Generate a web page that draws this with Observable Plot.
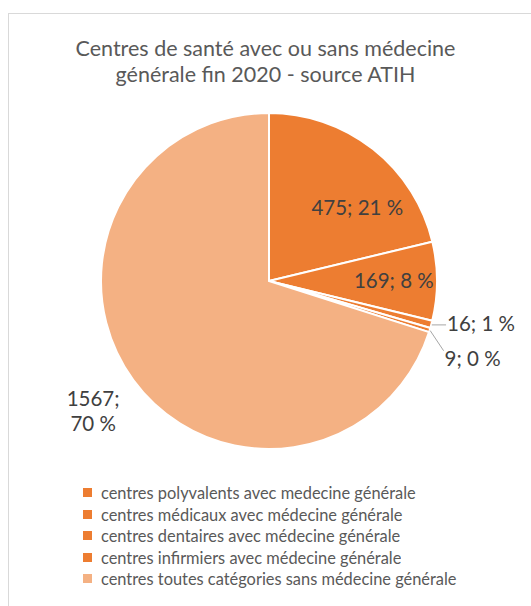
<!DOCTYPE html>
<html><head><meta charset="utf-8">
<script src="https://cdn.jsdelivr.net/npm/d3@7"></script>
<script src="https://cdn.jsdelivr.net/npm/@observablehq/plot@0.6"></script>
<style>
body{margin:0;background:#fff;}
#wrap{position:relative;width:531px;height:606px;overflow:hidden;font-family:Lato,"Open Sans",sans-serif;}
#frame{position:absolute;left:8px;top:13px;width:640px;height:700px;border:1.5px solid #d9d9d9;box-sizing:border-box;}
#title{position:absolute;left:0;top:35px;width:531px;text-align:center;font-size:21.5px;line-height:26px;color:#595959;font-weight:400;}
#chart{position:absolute;left:0;top:0;}
#legend{position:absolute;left:83px;top:482px;}
.lg-swatch{height:21.5px !important;margin:0 !important;padding:0 !important;}
.lg-swatch svg{margin-right:9px !important;}
</style>
</head><body>
<div id="wrap">
<div id="frame"></div>
<div id="chart"></div>
<div id="title"></div>
<div id="legend"></div>
</div>
<script>
// ---- data ----
const titleLines = ["Centres de santé avec ou sans médecine", "générale fin 2020 - source ATIH"];
const categories = [
  "centres polyvalents avec medecine générale",
  "centres médicaux avec médecine générale",
  "centres dentaires avec médecine générale",
  "centres infirmiers avec médecine générale",
  "centres toutes catégories sans médecine générale"
];
const values = [475, 169, 16, 9, 1567];
const palette = ["#ED7D31", "#ED7D31", "#ED7D31", "#ED7D31", "#F4B183"];

// ---- derived ----
const total = d3.sum(values);
const rows = categories.map((c, i) => ({
  category: c,
  value: values[i],
  pct: Math.round(100 * values[i] / total)
}));
const arcs = d3.pie().sort(null).value(d => d.value)(rows);

const color = Plot.scale({color: {type: "ordinal", domain: categories, range: palette}});

// layout
const W = 531, H = 606, cx = 269, cy = 281, R = 168;
const layout = [
  {kind: "in", r: 0.68, shift: 12},
  {kind: "in", r: 0.74, shift: 0},
  {kind: "lead", r: 1.0, ex: 0.085, ey: 0.0},
  {kind: "lead", r: 1.0, ex: 0.08, ey: -0.12},
  {kind: "out", r: 1.30, shift: 0}
];
const labels = arcs.map((a, i) => {
  const L = layout[i];
  const mid = (a.startAngle + a.endAngle) / 2 + (L.shift || 0) * Math.PI / 180;
  const x = Math.sin(mid) * L.r, y = Math.cos(mid) * L.r;
  const d = a.data;
  const text = L.kind === "out" ? `${d.value};\n${d.pct} %` : `${d.value}; ${d.pct} %`;
  return {x, y, x2: x + (L.ex || 0), y2: y + (L.ey || 0), kind: L.kind, text, i};
});

function slices(index, scales) {
  const x0 = scales.x(0), y0 = scales.y(0), r = scales.x(1) - scales.x(0);
  const arc = d3.arc().innerRadius(0).outerRadius(r);
  const g = d3.create("svg:g").attr("transform", `translate(${x0},${y0})`);
  g.selectAll("path").data(arcs).join("path")
    .attr("d", arc)
    .attr("fill", d => color.apply(d.data.category))
    .attr("stroke", "white")
    .attr("stroke-width", 2)
    .attr("stroke-linejoin", "miter");
  return g.node();
}

const fs = 20.5;
const plot = Plot.plot({
  width: W, height: H, margin: 0,
  style: {background: "transparent", fontFamily: "Lato, 'Open Sans', sans-serif"},
  x: {domain: [-1, 1], range: [cx - R, cx + R], axis: null},
  y: {domain: [-1, 1], range: [cy + R, cy - R], axis: null},
  marks: [
    slices,
    Plot.link(labels.filter(d => d.kind === "lead"), {
      x1: "x", y1: "y", x2: "x2", y2: "y2", stroke: "#a6a6a6", strokeWidth: 1
    }),
    Plot.text(labels.filter(d => d.kind === "in"), {
      x: "x", y: "y", text: "text", fontSize: fs, fill: "#404040", textAnchor: "middle"
    }),
    Plot.text(labels.filter(d => d.kind === "out"), {
      x: "x", y: "y", text: "text", fontSize: fs, fill: "#404040", textAnchor: "middle", lineHeight: 1.22
    }),
    Plot.text(labels.filter(d => d.i === 2), {
      x: "x2", y: "y2", text: "text", fontSize: fs, fill: "#404040", textAnchor: "start", dx: 1
    }),
    Plot.text(labels.filter(d => d.i === 3), {
      x: "x2", y: "y2", text: "text", fontSize: fs, fill: "#404040", textAnchor: "start", dx: 1, dy: 9
    })
  ]
});
document.getElementById("chart").appendChild(plot);

document.getElementById("title").innerHTML = titleLines.join("<br>");

const legend = Plot.legend({
  color: {type: "ordinal", domain: categories, range: palette},
  legend: "swatches",
  columns: 1,
  swatchSize: 9,
  className: "lg",
  style: {fontSize: "16.4px", fontFamily: "Lato, 'Open Sans', sans-serif", color: "#595959", margin: "0"}
});
document.getElementById("legend").appendChild(legend);
</script>
</body></html>
